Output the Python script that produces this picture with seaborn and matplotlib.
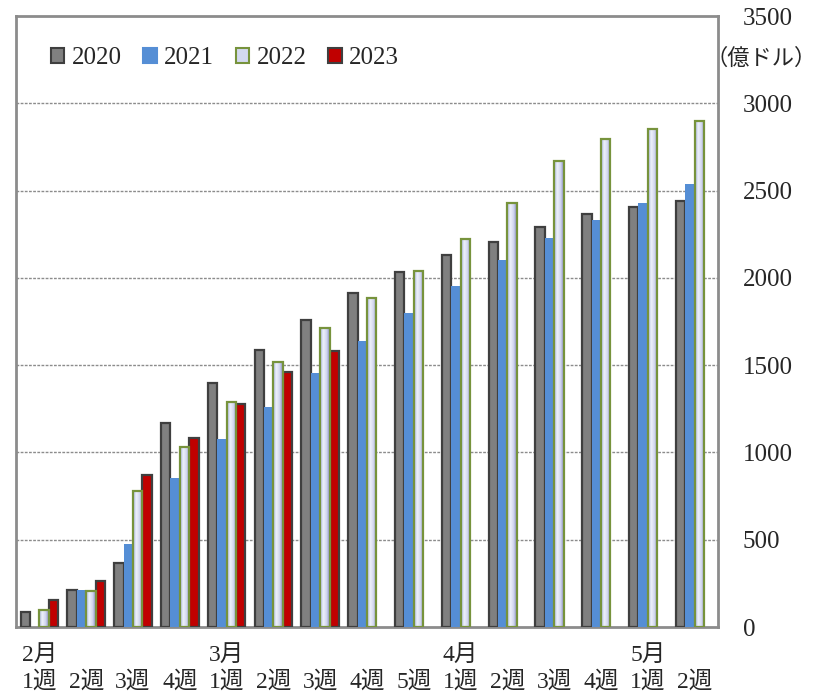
import numpy as np
import pandas as pd
import matplotlib
matplotlib.use("Agg")
import matplotlib.pyplot as plt
from matplotlib.patches import Patch
from matplotlib.colors import LinearSegmentedColormap
import seaborn as sns

nan = np.nan

# Cumulative amounts by week (億ドル)
weeks = ["2月1週", "2月2週", "2月3週", "2月4週", "3月1週", "3月2週", "3月3週",
         "3月4週", "3月5週", "4月1週", "4月2週", "4月3週", "4月4週", "5月1週", "5月2週"]
tick_labels = ["2月\n1週", "\n2週", "\n3週", "\n4週", "3月\n1週", "\n2週", "\n3週",
               "\n4週", "\n5週", "4月\n1週", "\n2週", "\n3週", "\n4週", "5月\n1週", "\n2週"]
years = ["2020", "2021", "2022", "2023"]
v2020 = [84, 212, 365, 1170, 1396, 1587, 1760, 1913, 2033, 2131, 2203, 2293, 2366, 2408, 2438]
v2021 = [nan, 214, 475, 852, 1075, 1258, 1453, 1636, 1797, 1953, 2102, 2226, 2331, 2427, 2536]
v2022 = [97, 208, 779, 1031, 1291, 1517, 1711, 1885, 2041, 2222, 2427, 2669, 2793, 2854, 2898]
v2023 = [157, 265, 871, 1081, 1276, 1459, 1583, nan, nan, nan, nan, nan, nan, nan, nan]
y_ticks = [0, 500, 1000, 1500, 2000, 2500, 3000, 3500]
unit_label = "（億ドル）"

rows = []
for yr, vals in zip(years, [v2020, v2021, v2022, v2023]):
    for w, v in zip(weeks, vals):
        if not np.isnan(v):
            rows.append({"week": w, "year": yr, "value": v})
df = pd.DataFrame(rows)

sns.set_theme(style="white")
plt.rcParams["font.family"] = ["Liberation Serif", "Noto Sans CJK JP"]

face = {"2020": "#808080", "2021": "#558ED5", "2022": "#D3D9F0", "2023": "#C00000"}
edge = {"2020": "#3F3F3F", "2021": "none", "2022": "#77933C", "2023": "#3F3F3F"}

fig = plt.figure(figsize=(8.33, 6.98), dpi=100)
ax = fig.add_axes([0.0192, 0.1017, 0.8427, 0.8753])

sns.barplot(data=df, x="week", y="value", hue="year", order=weeks,
            hue_order=years, palette=face, width=0.8, errorbar=None,
            saturation=1, ax=ax, legend=False)

# horizontal shading inside the 2022 bars
grad = LinearSegmentedColormap.from_list(
    "bar22", ["#A9B5E0", "#EEF1FA", "#D2D7EF", "#8A8BC8"])
gradient = np.linspace(0, 1, 64).reshape(1, -1)

for yr, cont in zip(years, ax.containers):
    for p in cont.patches:
        p.set_edgecolor(edge[yr])
        p.set_linewidth(0 if yr == "2021" else 1.6)
        p.set_zorder(3)
        if yr == "2022":
            x0, y0 = p.get_x(), p.get_y()
            im = ax.imshow(gradient, cmap=grad, aspect="auto",
                           extent=(x0, x0 + p.get_width(), y0, y0 + p.get_height()),
                           zorder=3.1, interpolation="bilinear")
            im.set_clip_path(p)
            p.set_facecolor("none")
            p.set_zorder(3.2)

ax.set_xlim(-0.5, len(weeks) - 0.5)
ax.set_ylim(0, 3500)
ax.set_yticks(y_ticks)
ax.yaxis.tick_right()
ax.tick_params(axis="y", length=0, pad=18, labelsize=18)
ax.set_xticks(range(len(weeks)))
ax.set_xticklabels(tick_labels, fontsize=17, linespacing=1.3)
ax.tick_params(axis="x", length=0, pad=13)
for lbl in ax.get_xticklabels():
    lbl.set_horizontalalignment("center")
ax.set_xlabel("")
ax.set_ylabel("")

for yv in y_ticks[1:-1]:
    ax.axhline(yv, color="#8C8C8C", lw=1.0, ls=(0, (2, 1)), zorder=1)

for s in ax.spines.values():
    s.set_visible(True)
    s.set_color("#8C8C8C")
    s.set_linewidth(2)

ax.text(1.062, 3250, unit_label, transform=ax.get_yaxis_transform(),
        ha="center", va="center", fontsize=16)

handles = [Patch(facecolor=face[y], edgecolor=(edge[y] if edge[y] != "none" else face[y]),
                 linewidth=1.5) for y in years]
ax.legend(handles, years, loc="upper left", bbox_to_anchor=(0.035, 0.965), ncol=4,
          frameon=False, fontsize=18, handlelength=0.55, handleheight=0.55,
          handletextpad=0.3, columnspacing=0.85, borderaxespad=0)

fig.savefig("out.png", dpi=100)
